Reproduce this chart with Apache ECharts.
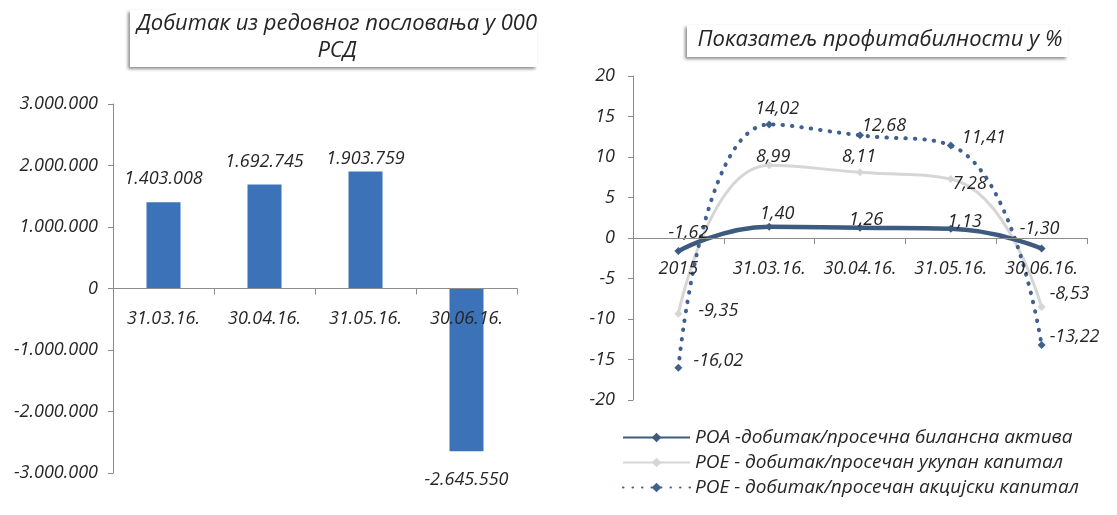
<!DOCTYPE html>
<html><head><meta charset="utf-8">
<script src="https://cdn.jsdelivr.net/npm/echarts@6/dist/echarts.min.js"></script>
<style>html,body{margin:0;padding:0;background:#fff}#c{width:1117px;height:515px}</style>
</head><body><div id="c"></div>
<script>
// ---- data ----
const barTitleLines = ['Добитак из редовног пословања у 000', 'РСД'];
const barCategories = ['31.03.16.', '30.04.16.', '31.05.16.', '30.06.16.'];
const barValues = [1403008, 1692745, 1903759, -2645550];

const lineTitle = 'Показатељ профитабилности у %';
const lineCategories = ['2015', '31.03.16.', '30.04.16.', '31.05.16.', '30.06.16.'];
const roaName = 'РОА -добитак/просечна билансна актива';
const roaValues = [-1.62, 1.40, 1.26, 1.13, -1.30];
const roeTotalName = 'РОЕ - добитак/просечан укупан капитал';
const roeTotalValues = [-9.35, 8.99, 8.11, 7.28, -8.53];
const roeShareName = 'РОЕ - добитак/просечан акцијски капитал';
const roeShareValues = [-16.02, 14.02, 12.68, 11.41, -13.22];

// ---- style helpers (label placement, not data) ----
const FONT = '"Open Sans", "Noto Sans", sans-serif';
const TXT = '#262626';
const AX = '#8c8c8c';
const FS = 18;
const roaLabelOff = [[10,-18],[8,-13],[6,-8],[14,-7],[-2,-20]];
const roeTotalLabelOff = [[40,-3],[4,-8],[-1,-15],[19,5],[28,-13]];
const roeShareLabelOff = [[40,-7],[8,-16],[24,-9],[33,-8],[33,-8]];
const barLabelDy = [0, 0, 10, 0];
const SYM = 8;

function fmtThousands(n) {
  const s = Math.abs(Math.round(n)).toString().replace(/\B(?=(\d{3})+(?!\d))/g, '.');
  return (n < 0 ? '-' : '') + s;
}
function fmtComma(v) { return v.toFixed(2).replace('.', ','); }

function lineData(values, offs) {
  return values.map((v, i) => ({
    value: v,
    label: {
      position: [SYM / 2 + offs[i][0], SYM / 2 + offs[i][1]],
      align: 'center', verticalAlign: 'middle'
    }
  }));
}
const lblStyle = { show: true, fontFamily: FONT, fontStyle: 'italic', fontSize: FS, color: TXT,
  formatter: p => fmtComma(p.value) };

const chart = echarts.init(document.getElementById('c'), null, { renderer: 'canvas' });
chart.setOption({
  animation: false,
  backgroundColor: '#fff',
  textStyle: { fontFamily: FONT },
  graphic: [
    { type: 'rect', z: 0, shape: { x: 130, y: 10, width: 407, height: 57 },
      style: { fill: '#fff', shadowBlur: 3, shadowOffsetX: -2, shadowOffsetY: 2, shadowColor: 'rgba(0,0,0,0.45)' } },
    { type: 'text', z: 1, x: 337, y: 24,
      style: { text: barTitleLines[0], fontFamily: FONT, fontStyle: 'italic', fontSize: 22, fill: TXT,
               align: 'center', verticalAlign: 'middle' } },
    { type: 'text', z: 1, x: 337, y: 51,
      style: { text: barTitleLines[1], fontFamily: FONT, fontStyle: 'italic', fontSize: 22, fill: TXT,
               align: 'center', verticalAlign: 'middle' } },
    { type: 'rect', z: 0, shape: { x: 687, y: 25, width: 381, height: 32 },
      style: { fill: '#fff', shadowBlur: 3, shadowOffsetX: -2, shadowOffsetY: 2, shadowColor: 'rgba(0,0,0,0.45)' } },
    { type: 'text', z: 1, x: 880, y: 40,
      style: { text: lineTitle, fontFamily: FONT, fontStyle: 'italic', fontSize: 22, fill: TXT,
               align: 'center', verticalAlign: 'middle' } }
  ],
  grid: [
    { left: 113, top: 104, width: 404, height: 369 },
    { left: 633, top: 76, width: 454, height: 324 }
  ],
  xAxis: [
    { type: 'category', gridIndex: 0, data: barCategories, z: 10, offset: -184.5,
      axisLine: { onZero: false, lineStyle: { color: AX } },
      axisTick: { show: true, interval: 0, length: 6, lineStyle: { color: AX } },
      axisLabel: { interval: 0, margin: 21, color: TXT, fontStyle: 'italic', fontSize: FS, fontFamily: FONT } },
    { type: 'category', gridIndex: 1, data: lineCategories, z: 10, offset: -162,
      axisLine: { onZero: false, lineStyle: { color: AX } },
      axisTick: { show: true, interval: 0, length: 6, lineStyle: { color: AX } },
      axisLabel: { interval: 0, hideOverlap: false, margin: 22, color: TXT, fontStyle: 'italic', fontSize: FS, fontFamily: FONT } }
  ],
  yAxis: [
    { type: 'value', gridIndex: 0, min: -3000000, max: 3000000, interval: 1000000,
      splitLine: { show: false },
      axisLine: { show: true, lineStyle: { color: AX } }, axisTick: { show: true, length: 5, lineStyle: { color: AX } },
      axisLabel: { margin: 15, color: TXT, fontStyle: 'italic', fontSize: FS, fontFamily: FONT, formatter: v => fmtThousands(v) } },
    { type: 'value', gridIndex: 1, min: -20, max: 20, interval: 5,
      splitLine: { show: false },
      axisLine: { show: true, lineStyle: { color: AX } }, axisTick: { show: true, length: 5, lineStyle: { color: AX } },
      axisLabel: { margin: 18, color: TXT, fontStyle: 'italic', fontSize: FS, fontFamily: FONT } }
  ],
  legend: {
    orient: 'vertical', left: 617, top: 423, itemWidth: 67, itemHeight: 12, itemGap: 6,
    textStyle: { color: TXT, fontStyle: 'italic', fontSize: 19, fontFamily: FONT },
    data: [roaName, roeTotalName, roeShareName]
  },
  series: [
    { type: 'bar', xAxisIndex: 0, yAxisIndex: 0, barWidth: 34,
      itemStyle: { color: '#3b72b8' },
      data: barValues.map((v, i) => ({
        value: v,
        label: v < 0 ? { position: 'bottom', distance: 20 } : { position: 'top', distance: 14, offset: [0, barLabelDy[i]] }
      })),
      label: { show: true, color: TXT, fontStyle: 'italic', fontSize: FS, fontFamily: FONT,
               formatter: p => fmtThousands(p.value) } },
    { name: roeTotalName, type: 'line', xAxisIndex: 1, yAxisIndex: 1, smooth: 0.5,
      symbol: 'diamond', symbolSize: SYM, z: 3,
      lineStyle: { color: '#d6d6d6', width: 3 }, itemStyle: { color: '#d6d6d6' },
      label: lblStyle, data: lineData(roeTotalValues, roeTotalLabelOff) },
    { name: roeShareName, type: 'line', xAxisIndex: 1, yAxisIndex: 1, smooth: 0.5,
      symbol: 'diamond', symbolSize: SYM, z: 4,
      lineStyle: { color: '#40618e', width: 4, type: [0.5, 9], cap: 'round' }, itemStyle: { color: '#40618e' },
      label: lblStyle, data: lineData(roeShareValues, roeShareLabelOff) },
    { name: roaName, type: 'line', xAxisIndex: 1, yAxisIndex: 1, smooth: 0.5,
      symbol: 'diamond', symbolSize: SYM, z: 5,
      lineStyle: { color: '#3d5a7f', width: 4.5 }, itemStyle: { color: '#3d5a7f' },
      label: lblStyle, data: lineData(roaValues, roaLabelOff) }
  ]
});
</script>
</body></html>
